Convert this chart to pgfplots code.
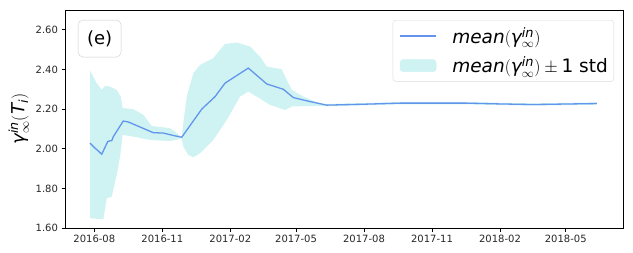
\documentclass[border=0pt]{standalone}
\usepackage{fontspec}
\setmainfont{DejaVu Sans}
\usepackage{amsmath}
\usepackage{pgfplots}
\pgfplotsset{compat=1.18}
\definecolor{meanc}{RGB}{100,149,237}
\definecolor{bandc}{RGB}{206,243,242}
\begin{document}
\begin{tikzpicture}
\begin{axis}[
  scale only axis, width=558pt, height=218pt,
  xmin=-39.7, xmax=715.5, ymin=1.6, ymax=2.7,
  xtick={0,92,184,273,365,457,549,638},
  xticklabels={2016-08,2016-11,2017-02,2017-05,2017-08,2017-11,2018-02,2018-05},
  ytick={1.6,1.8,2.0,2.2,2.4,2.6},
  yticklabel style={/pgf/number format/.cd, fixed, fixed zerofill, precision=2},
  /pgf/number format/assume math mode=true,
  tick label style={font=\fontsize{10}{12}\selectfont, text=black!85},
  tick align=outside, xtick pos=bottom, ytick pos=left,
  major tick length=3.5pt,
  every tick/.style={black, line width=0.8pt},
  axis line style={black, line width=0.8pt},
  ylabel={$\textit{γ}^{\textit{in}}_{\infty}(\textit{T}_{\textit{i}})$},
  ylabel style={font=\fontsize{18}{22}\selectfont},
  legend style={at={(rel axis cs:0.984,0.954)}, anchor=north east,
    draw=black!15, rounded corners=3pt, font=\fontsize{18.5}{22}\selectfont,
    row sep=8pt, inner xsep=4pt, inner ysep=5pt},
  legend cell align=left,
]
\coordinate (SW) at (rel axis cs:0,0);
\coordinate (NE) at (rel axis cs:1,1);
\addlegendimage{legend image code/.code={\draw[meanc, line width=1.5pt] (0pt,0pt) -- (36pt,0pt); \path (-3pt,0pt) (50pt,0pt);}}
\addlegendentry{$\textit{mean}(\textit{γ}^{\textit{in}}_{\infty})$}
\addlegendimage{legend image code/.code={\fill[bandc] (0pt,-6pt) rectangle (36pt,6pt); \path (-3pt,0pt) (50pt,0pt);}}
\addlegendentry{$\textit{mean}(\textit{γ}^{\textit{in}}_{\infty})\pm\text{1 std}$}
\addplot[fill=bandc, draw=none, forget plot] coordinates {
(-5.8,2.394)(3.2,2.331)(10,2.297)(14.5,2.317)(21.2,2.314)(30.3,2.297)(35.7,2.263)(38.4,2.205)(52.8,2.200)(66.3,2.171)(77.7,2.115)(102.4,2.104)(109.2,2.086)(116,2.065)(118.3,2.061)(120.4,2.129)(125.1,2.263)(134,2.381)(143.1,2.423)(161,2.457)(170.1,2.499)(176.9,2.529)(192.7,2.536)(210.7,2.516)(224.2,2.465)(233.3,2.415)(253.6,2.401)(260.4,2.347)(267.2,2.297)(282.9,2.263)(305.5,2.228)(314.5,2.226)(368.6,2.231)(413.7,2.236)(504,2.236)(549,2.232)(593.7,2.229)(680,2.234)
(680,2.222)(593.7,2.217)(549,2.220)(504,2.224)(413.7,2.224)(368.6,2.219)(314.5,2.214)(305.5,2.216)(282.9,2.215)(267.2,2.213)(258.1,2.196)(237.8,2.221)(219.8,2.263)(208.4,2.288)(197.2,2.263)(179.2,2.145)(161,2.044)(143.1,1.977)(134,1.957)(127.2,1.969)(120.4,2.011)(118.3,2.053)(113.7,2.047)(102.4,2.039)(75.4,2.044)(57.4,2.058)(38.4,2.070)(34.8,1.960)(30.3,1.868)(23.5,1.758)(16.8,1.750)(12.2,1.644)(-5.8,1.649)
} -- cycle;
\addplot[meanc, line width=1.3pt, forget plot] coordinates {
(-5.8,2.028)(0.9,2.003)(5,1.990)(10,1.972)(18.1,2.036)(21.2,2.040)(23.5,2.040)(25.7,2.061)(39.2,2.140)(46,2.135)(79.8,2.081)(93.4,2.079)(109.2,2.065)(118.3,2.058)(145.4,2.200)(163.4,2.263)(176.9,2.331)(208.4,2.407)(233.3,2.327)(255.8,2.300)(269.3,2.258)(291.9,2.238)(314.5,2.220)(368.6,2.225)(413.7,2.230)(504,2.230)(549,2.226)(593.7,2.223)(680,2.228)
};
\node[draw=black!20, rounded corners=5pt, fill=white, font=\fontsize{18}{22}\selectfont, minimum width=43pt, minimum height=37pt, inner sep=0pt] at (rel axis cs:0.062,0.869) {(e)};
\end{axis}
\pgfresetboundingbox
\path[use as bounding box] ([xshift=-65pt,yshift=-24pt]SW) rectangle ([xshift=10pt,yshift=10pt]NE);
\end{tikzpicture}
\end{document}
